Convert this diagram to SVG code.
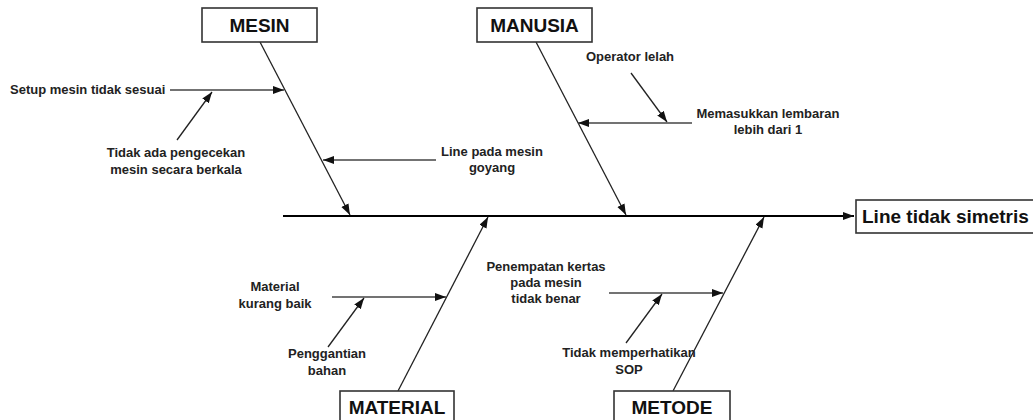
<svg xmlns="http://www.w3.org/2000/svg" width="1033" height="420" viewBox="0 0 1033 420">
<style>
.box{fill:#fff;stroke:#333;stroke-width:1.6}
.hd{font-family:"Liberation Sans",Arial,sans-serif;font-weight:bold;font-size:19px;fill:#111;text-anchor:middle}
.lb{font-family:"Liberation Sans",Arial,sans-serif;font-weight:bold;font-size:13px;fill:#222}
.c{text-anchor:middle}
.ln{stroke:#222;stroke-width:1.3;fill:none;marker-end:url(#ah)}
.sec{stroke:#444;stroke-width:1.6;fill:none;marker-end:url(#ah)}
.sp{stroke:#000;stroke-width:2;fill:none;marker-end:url(#ah)}
</style>
<defs>
<marker id="ah" markerUnits="userSpaceOnUse" markerWidth="12" markerHeight="9" refX="11" refY="4" orient="auto">
<path d="M0,0 L11,4 L0,8 z" fill="#111"/>
</marker>
</defs>
<rect width="1033" height="420" fill="#fff"/>
<g id="connectors">
<line class="sp" x1="283" y1="216" x2="854" y2="216"/>
<line class="ln" x1="260" y1="42" x2="350" y2="215"/>
<line class="ln" x1="536" y1="42" x2="626" y2="215"/>
<line class="ln" x1="398" y1="391" x2="488" y2="217"/>
<line class="ln" x1="673" y1="391" x2="764" y2="217"/>
<line class="sec" x1="170" y1="90" x2="284" y2="90"/>
<line class="ln" x1="177" y1="140" x2="212" y2="92"/>
<line class="sec" x1="436" y1="160" x2="323" y2="160"/>
<line class="ln" x1="631" y1="73" x2="667" y2="122"/>
<line class="sec" x1="692" y1="123" x2="578" y2="123"/>
<line class="sec" x1="332" y1="297" x2="446" y2="297"/>
<line class="ln" x1="328" y1="347" x2="364" y2="298"/>
<line class="sec" x1="609" y1="293" x2="723" y2="293"/>
<line class="ln" x1="626" y1="343" x2="662" y2="294"/>
</g>
<g id="mesin"><rect class="box" x="202" y="8" width="115" height="34"/><text class="hd" x="259.5" y="32">MESIN</text></g>
<g id="manusia"><rect class="box" x="477" y="8" width="115" height="34"/><text class="hd" x="534.5" y="32">MANUSIA</text></g>
<g id="material"><rect class="box" x="340" y="391" width="114" height="34"/><text class="hd" x="397" y="414">MATERIAL</text></g>
<g id="metode"><rect class="box" x="614" y="391" width="116" height="34"/><text class="hd" x="672" y="414">METODE</text></g>
<g id="effect"><rect class="box" x="856" y="200" width="190" height="33"/><text class="hd" x="862" y="223" style="text-anchor:start">Line tidak simetris</text></g>
<g id="setup"><text class="lb" x="10" y="94">Setup mesin tidak sesuai</text></g>
<g id="pengecekan"><text class="lb c" x="176" y="157">Tidak ada pengecekan</text><text class="lb c" x="176" y="174">mesin secara berkala</text></g>
<g id="goyang"><text class="lb c" x="492" y="156">Line pada mesin</text><text class="lb c" x="492" y="172">goyang</text></g>
<g id="operator"><text class="lb c" x="630" y="61">Operator lelah</text></g>
<g id="memasukkan"><text class="lb c" x="768" y="118">Memasukkan lembaran</text><text class="lb c" x="768" y="134">lebih dari 1</text></g>
<g id="materialkurang"><text class="lb c" x="275" y="291">Material</text><text class="lb c" x="275" y="308">kurang baik</text></g>
<g id="penggantian"><text class="lb c" x="327" y="358">Penggantian</text><text class="lb c" x="327" y="375">bahan</text></g>
<g id="penempatan"><text class="lb c" x="546" y="271">Penempatan kertas</text><text class="lb c" x="546" y="287">pada mesin</text><text class="lb c" x="546" y="303">tidak benar</text></g>
<g id="sop"><text class="lb c" x="629" y="357">Tidak memperhatikan</text><text class="lb c" x="629" y="374">SOP</text></g>
</svg>
